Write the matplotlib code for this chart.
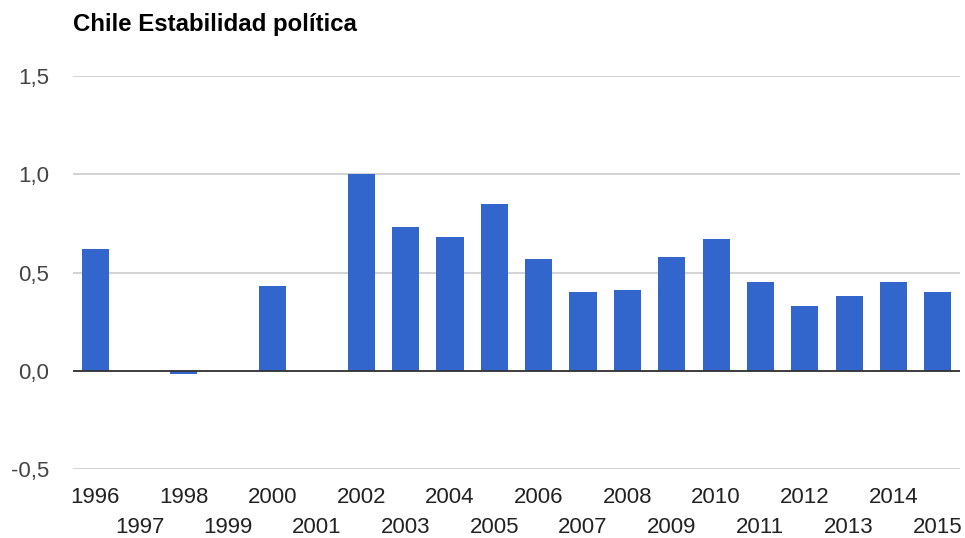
import matplotlib
matplotlib.use("Agg")
import matplotlib.pyplot as plt
import numpy as np

years = ["1996", "1997", "1998", "1999", "2000", "2001", "2002", "2003", "2004", "2005",
         "2006", "2007", "2008", "2009", "2010", "2011", "2012", "2013", "2014", "2015"]
values = [0.62, np.nan, -0.016, np.nan, 0.43, np.nan, 1.00, 0.73, 0.68, 0.85,
          0.57, 0.40, 0.41, 0.58, 0.67, 0.45, 0.33, 0.38, 0.45, 0.40]
y_ticks = [-0.5, 0.0, 0.5, 1.0, 1.5]
y_labels = ["-0,5", "0,0", "0,5", "1,0", "1,5"]
title = "Chile Estabilidad política"

plt.rcParams['font.family'] = ['Liberation Sans', 'DejaVu Sans']

W, H = 965, 538
fig = plt.figure(figsize=(W / 100, H / 100), dpi=100)
ax = fig.add_axes([73 / W, 1 - 469 / H, (960 - 73) / W, (469 - 76) / H])

x = np.arange(len(years))
ax.bar(x, values, width=0.61, color="#3366cc", zorder=3)

ax.set_xlim(-0.5, len(years) - 0.5)
ax.set_ylim(-0.5, 1.5)
ax.set_yticks(y_ticks)
ax.set_yticklabels(y_labels, fontsize=16, color="#444444")
ax.tick_params(axis="y", length=0, pad=17)
ax.grid(axis="y", color="#cccccc", linewidth=1.2, zorder=0)
ax.axhline(0, color="#333333", linewidth=1.3, zorder=4)

ax.set_xticks(x)
ax.set_xticklabels(years, fontsize=16, color="#222222")
ax.tick_params(axis="x", length=0)
for i, t in enumerate(ax.xaxis.get_major_ticks()):
    t.set_pad(13 if i % 2 == 0 else 34.5)

for s in ax.spines.values():
    s.set_visible(False)

fig.text(73 / W, 1 - 24 / H, title, fontsize=17.3, fontweight="bold",
         color="#000000", va="center", ha="left")

fig.savefig("out.png", dpi=100)
